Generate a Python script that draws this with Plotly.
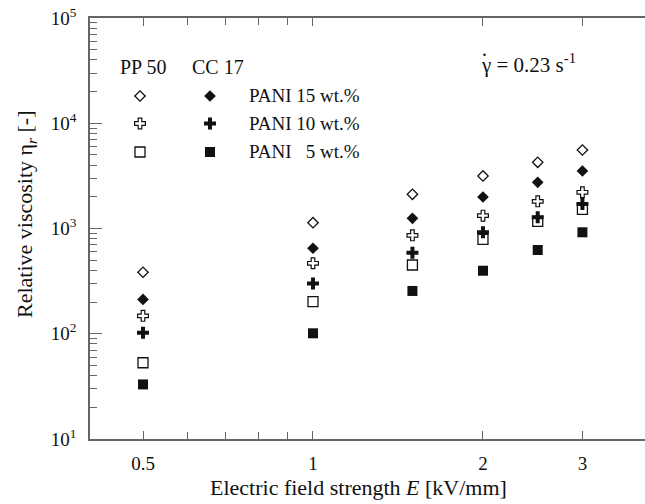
import plotly.graph_objects as go
import math

# ---- data ----
E = [0.5, 1, 1.5, 2, 2.5, 3]
pp50_pani15 = [384, 1135, 2113, 3155, 4256, 5570]
cc17_pani15 = [212, 649, 1250, 1991, 2748, 3518]
pp50_pani10 = [148, 467, 861, 1324, 1811, 2208]
cc17_pani10 = [102, 301, 589, 920, 1277, 1710]
pp50_pani5 = [53, 202, 450, 789, 1170, 1521]
cc17_pani5 = [33, 101, 255, 397, 625, 920]

x_tickvals = [0.5, 1, 2, 3]
x_ticktext = ["0.5", "1", "2", "3"]
x_minor = [0.6, 0.7, 0.8, 0.9]
y_tickvals = [10, 100, 1000, 10000, 100000]
y_ticktext = ["10<sup>1</sup>", "10<sup>2</sup>", "10<sup>3</sup>", "10<sup>4</sup>", "10<sup>5</sup>"]
y_minor = [k * 10 ** e for e in range(1, 5) for k in range(2, 10)]

legend_labels = ["PANI 15 wt.%", "PANI 10 wt.%", "PANI \u00a0\u00a05 wt.%"]

FONT = "Liberation Serif"
BLACK = "#111"

fig = go.Figure()

def add(y, symbol, size, lw=1.3):
    fig.add_trace(go.Scatter(
        x=E, y=y, mode="markers", showlegend=False,
        marker=dict(symbol=symbol, size=size, color=BLACK,
                    line=dict(color=BLACK, width=lw)),
    ))

add(pp50_pani15, "diamond-open", 8)
add(cc17_pani15, "diamond", 9, 0)
add(pp50_pani10, "cross-open", 9, 1.2)
add(pp50_pani5, "square-open", 10)
add(cc17_pani10, "cross", 10, 0)
add(cc17_pani5, "square", 10, 0)

# legend markers on an overlay axis in paper-like units
W, H = 645, 504
L, T, B = 90, 18, 65
pw, ph = W - L, H - T - B
def px2x(px): return (px - L) / pw
def py2y(py): return (H - B - py) / ph

leg_rows = [96, 123.5, 152]
open_syms = [("diamond-open", 8, 1.3), ("cross-open", 9, 1.2), ("square-open", 10, 1.3)]
fill_syms = [("diamond", 9, 0), ("cross", 10, 0), ("square", 10, 0)]
for (sym, sz, lw), row in zip(open_syms, leg_rows):
    fig.add_trace(go.Scatter(x=[px2x(140)], y=[py2y(row)], xaxis="x2", yaxis="y2",
                             mode="markers", showlegend=False,
                             marker=dict(symbol=sym, size=sz, color=BLACK,
                                         line=dict(color=BLACK, width=lw))))
for (sym, sz, lw), row in zip(fill_syms, leg_rows):
    fig.add_trace(go.Scatter(x=[px2x(210)], y=[py2y(row)], xaxis="x2", yaxis="y2",
                             mode="markers", showlegend=False,
                             marker=dict(symbol=sym, size=sz, color=BLACK,
                                         line=dict(color=BLACK, width=lw))))

def ann(px, py, text, size, xanchor="center", **kw):
    return dict(x=px2x(px), y=py2y(py), xref="paper", yref="paper", text=text,
                showarrow=False, xanchor=xanchor, yanchor="middle",
                font=dict(family=FONT, size=size, color=BLACK), **kw)

annotations = []
for lab, row in zip(legend_labels, leg_rows):
    annotations.append(ann(247, row, lab, 19, xanchor="left"))
annotations += [
    ann(143, 67, "PP 50", 20),
    ann(218, 67, "CC 17", 20),
    ann(479, 63, "\u03b3 = 0.23 s<sup>-1</sup>", 21, xanchor="left"),
    ann(485, 49, ".", 20),
    ann(358, 487, "Electric field strength <i>E</i> [kV/mm]", 22),
    ann(26, 214, "Relative viscosity \u03b7<sub><i>r</i></sub> [-]", 22, textangle=-90),
]

xl = math.log10(0.5) - 53 / 564.7
xr = xl + pw / 564.7

fig.update_layout(
    width=W, height=H,
    margin=dict(l=L, r=0, t=T, b=B),
    paper_bgcolor="white", plot_bgcolor="white",
    showlegend=False,
    annotations=annotations,
    xaxis=dict(type="log", range=[xl, xr], tickmode="array",
               tickvals=x_tickvals, ticktext=x_ticktext,
               ticks="inside", ticklen=8, tickwidth=1.3, tickcolor="#666",
               showline=True, linecolor="#666", linewidth=1.5, mirror="ticks",
               showgrid=False, zeroline=False, ticklabelstandoff=6,
               tickfont=dict(family=FONT, size=19, color=BLACK),
               minor=dict(tickmode="array", tickvals=x_minor, ticks="inside",
                          ticklen=7, tickwidth=1.3, tickcolor="#666", showgrid=False)),
    yaxis=dict(type="log", range=[1, 5], tickmode="array",
               tickvals=y_tickvals, ticktext=y_ticktext,
               ticks="inside", ticklen=12, tickwidth=1.3, tickcolor="#666",
               showline=True, linecolor="#666", linewidth=1.5,
               showgrid=False, zeroline=False, ticklabelstandoff=8,
               tickfont=dict(family=FONT, size=19, color=BLACK),
               minor=dict(tickmode="array", tickvals=y_minor, ticks="inside",
                          ticklen=7, tickwidth=1.2, tickcolor="#666", showgrid=False)),
    xaxis2=dict(overlaying="x", range=[0, 1], visible=False, fixedrange=True),
    yaxis2=dict(overlaying="y", range=[0, 1], visible=False, fixedrange=True),
)

fig.write_html("out.html", config={"displayModeBar": False},
               post_script="document.body.style.margin='0';")
